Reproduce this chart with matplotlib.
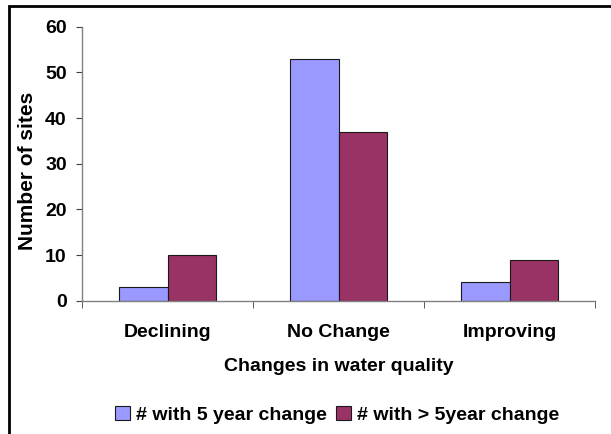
import matplotlib
matplotlib.use("Agg")
import matplotlib.pyplot as plt
import matplotlib.patches as mpatches
import numpy as np

categories = ["Declining", "No Change", "Improving"]
five_year = [3, 53, 4]
over_five_year = [10, 37, 9]
series_names = ["# with 5 year change", "# with > 5year change"]
yticks = [0, 10, 20, 30, 40, 50, 60]

plt.rcParams["font.family"] = ["Liberation Sans", "DejaVu Sans"]
plt.rcParams["font.weight"] = "bold"

W, H = 611, 434
fs = 14
fig = plt.figure(figsize=(W / 100, H / 100), dpi=100)
ax = fig.add_axes([82 / W, 1 - 300.7 / H, (595 - 82) / W, (300.7 - 26.7) / H])

x = np.arange(len(categories))
bw = 0.284
ax.bar(x - bw / 2, five_year, bw, color="#9999FF", edgecolor="#1a1a1a", lw=0.8,
       label=series_names[0])
ax.bar(x + bw / 2, over_five_year, bw, color="#993366", edgecolor="#1a1a1a", lw=0.8,
       label=series_names[1])

ax.set_xlim(-0.5, 2.5)
ax.set_ylim(0, 60)
ax.set_yticks(yticks)
ax.set_xticks(x)
ax.set_xticklabels(categories, fontsize=fs, fontweight="bold")
ax.set_xticks([-0.5, 0.5, 1.5, 2.5], minor=True)
ax.tick_params(axis="x", which="major", length=0, pad=17)
ax.tick_params(axis="x", which="minor", length=5, color="#404040", direction="out")
ax.tick_params(axis="y", length=4, color="#404040", pad=7, labelsize=fs)
for lab in ax.get_yticklabels():
    lab.set_fontweight("bold")

for s in ("top", "right"):
    ax.spines[s].set_visible(False)
for s in ("left", "bottom"):
    ax.spines[s].set_color("#808080")
    ax.spines[s].set_linewidth(1.0)

ax.set_xlabel("Changes in water quality", fontsize=fs, fontweight="bold", labelpad=12)
ax.set_ylabel("Number of sites", fontsize=15, fontweight="bold")
ax.yaxis.set_label_coords(-0.087, 0.473)

ax.legend(loc="center", bbox_to_anchor=(337 / W, 1 - 415 / H),
          bbox_transform=fig.transFigure, ncol=2, frameon=False,
          fontsize=fs, handlelength=0.75, handleheight=0.75,
          handletextpad=0.3, columnspacing=0.5)

fig.patches.append(mpatches.Rectangle((9 / W, -0.1), 1.2, 1.1 - 6 / H,
                                      transform=fig.transFigure, fill=False,
                                      lw=2, ec="black"))

fig.savefig("out.png", dpi=100)
